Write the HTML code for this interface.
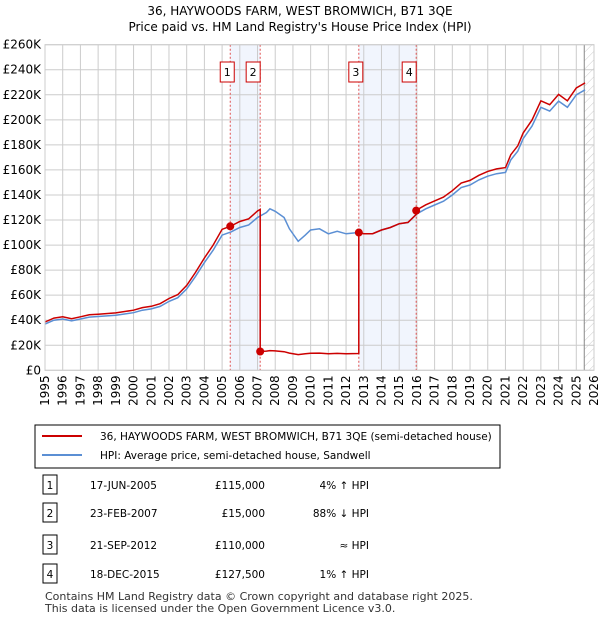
<!DOCTYPE html>
<html><head><meta charset="utf-8"><style>
body{margin:0;background:#fff;font-family:"Liberation Sans","DejaVu Sans",sans-serif;}
svg text{font-family:"DejaVu Sans","Liberation Sans",sans-serif;}
</style></head><body>
<svg width="600" height="620" xmlns="http://www.w3.org/2000/svg" id="chart">
<defs><pattern id="hatch" width="6" height="6" patternUnits="userSpaceOnUse" patternTransform="rotate(45)"><line x1="0" y1="0" x2="0" y2="6" stroke="#ccc" stroke-width="1"/></pattern></defs>
<text x="300" y="15" text-anchor="middle" font-size="12">36, HAYWOODS FARM, WEST BROMWICH, B71 3QE</text>
<text x="300" y="31" text-anchor="middle" font-size="12">Price paid vs. HM Land Registry's House Price Index (HPI)</text>
<g id="plot"></g>
<rect x="35" y="425" width="465" height="43" fill="#fff" stroke="#000" stroke-width="1"/>
<line x1="42" y1="436" x2="82" y2="436" stroke="#cc0000" stroke-width="2"/>
<text x="100" y="440" font-size="10.5">36, HAYWOODS FARM, WEST BROMWICH, B71 3QE (semi-detached house)</text>
<line x1="42" y1="455" x2="82" y2="455" stroke="#5b8fd4" stroke-width="2"/>
<text x="100" y="459" font-size="10.5">HPI: Average price, semi-detached house, Sandwell</text>
<g id="table" font-size="10.5"></g>
<text x="45" y="600" font-size="11" fill="#333">Contains HM Land Registry data © Crown copyright and database right 2025.</text>
<text x="45" y="612" font-size="11" fill="#333">This data is licensed under the Open Government Licence v3.0.</text>
</svg>
<script>
const hpiYears=[1995,1995.5,1996,1996.5,1997,1997.5,1998,1999,2000,2000.5,2001,2001.5,2002,2002.5,2003,2003.5,2004,2004.5,2005,2005.5,2006,2006.5,2007,2007.5,2007.7,2008,2008.5,2008.8,2009.3,2009.7,2010,2010.5,2011,2011.5,2012,2012.7,2013,2013.5,2014,2014.5,2015,2015.5,2016,2016.5,2017,2017.5,2018,2018.5,2019,2019.5,2020,2020.5,2021,2021.3,2021.7,2022,2022.5,2023,2023.5,2024,2024.5,2025,2025.5];
const hpiValues=[37,40,41,39.5,41,42.5,43,44,46,48,49,51,55,58,65,75,86,96,108,110.5,114,116,122,126,129,127,122,113,103,108,112,113,109,111,109,110,109,109,112,114,117,118,125,129,132,135,140,146,148,152,155,157,158,168,175,185,195,210,207,215,210,220,224];
const saleYears=[2005.46,2007.15,2012.72,2015.96];
const salePrices=[115,15,110,127.5];
const saleLabels=["1","2","3","4"];
const saleDates=["17-JUN-2005","23-FEB-2007","21-SEP-2012","18-DEC-2015"];
const salePriceText=["£115,000","£15,000","£110,000","£127,500"];
const saleHpiText=["4% ↑ HPI","88% ↓ HPI","≈ HPI","1% ↑ HPI"];
const yTicks=[0,20,40,60,80,100,120,140,160,180,200,220,240,260];
const xTicks=[1995,1996,1997,1998,1999,2000,2001,2002,2003,2004,2005,2006,2007,2008,2009,2010,2011,2012,2013,2014,2015,2016,2017,2018,2019,2020,2021,2022,2023,2024,2025,2026];

const X0=45,X1=594,Y0=370.3,Y1=44.7;
const sx=y=>X0+(y-1995)/(2026-1995)*(X1-X0);
const sy=v=>Y0-v/260*(Y0-Y1);
const NS="http://www.w3.org/2000/svg";
const plot=document.getElementById('plot');
function mk(tag,attrs,parent){const e=document.createElementNS(NS,tag);for(const k in attrs)e.setAttribute(k,attrs[k]);(parent||plot).appendChild(e);return e;}
function hpiAt(t){if(t<=hpiYears[0])return hpiValues[0];for(let i=1;i<hpiYears.length;i++){if(t<=hpiYears[i]){const f=(t-hpiYears[i-1])/(hpiYears[i]-hpiYears[i-1]);return hpiValues[i-1]+f*(hpiValues[i]-hpiValues[i-1]);}}return hpiValues[hpiValues.length-1];}

for(let i=0;i<saleYears.length;i+=2){
 const r=mk('rect',{x:sx(saleYears[i]),y:Y1,width:sx(saleYears[i+1])-sx(saleYears[i]),height:Y0-Y1,fill:'#eef3fc',opacity:0.8});
 
 
}
const hz=mk('rect',{x:sx(2025.45),y:Y1,width:X1-sx(2025.45),height:Y0-Y1,fill:'url(#hatch)'});


yTicks.forEach(v=>{
 mk('line',{x1:X0,x2:X1,y1:sy(v),y2:sy(v),stroke:'#ccc','stroke-width':1});
 const t=mk('text',{x:X0-4,y:sy(v)+4,'text-anchor':'end','font-size':12});t.textContent='£'+(v===0?'0':v+'K');
 
 
});
xTicks.forEach(y=>{
 mk('line',{x1:sx(y),x2:sx(y),y1:Y1,y2:Y0,stroke:'#ccc','stroke-width':1});
 const t=mk('text',{transform:`translate(${sx(y)+4},${Y0+5}) rotate(-90)`,'text-anchor':'end','font-size':12});t.textContent=y;
 
 
});
mk('line',{x1:sx(2025.45),x2:sx(2025.45),y1:Y1,y2:Y0,stroke:'#888','stroke-width':1});
saleYears.forEach((y,i)=>{
 const l=mk('line',{x1:sx(y),x2:sx(y),y1:Y1,y2:Y0,stroke:'#e05050','stroke-width':1,'stroke-dasharray':'2,2'});
 
 
 const g=mk('g',{});
 
 
 const cx=sx(y)+(i%2===0?-3:-7);
 mk('rect',{x:cx-7,y:62,width:14,height:20,fill:'#fff',stroke:'#cc0000','stroke-width':1},g);
 const t=mk('text',{x:cx,y:76,'text-anchor':'middle','font-size':11},g);t.textContent=saleLabels[i];
});
let hp='';
hpiYears.forEach((y,i)=>{hp+=(i?'L':'M')+sx(y).toFixed(1)+','+sy(hpiValues[i]).toFixed(1);});
const hl=mk('path',{d:hp,fill:'none',stroke:'#5b8fd4','stroke-width':1.5});


const pts=[];
function seg(a,b,ratio){hpiYears.forEach((y,i)=>{if(y>a&&y<b)pts.push([y,hpiValues[i]*ratio]);});}
const r0=salePrices[0]/hpiAt(saleYears[0]);
seg(1994,saleYears[0],r0);pts.push([saleYears[0],salePrices[0]]);
seg(saleYears[0],saleYears[1],r0);pts.push([saleYears[1],hpiAt(saleYears[1])*r0]);
for(let k=1;k<4;k++){
 const r=salePrices[k]/hpiAt(saleYears[k]);
 pts.push([saleYears[k],salePrices[k]]);
 seg(saleYears[k],k<3?saleYears[k+1]:2026,r);
 if(k<3)pts.push([saleYears[k+1],hpiAt(saleYears[k+1])*r]);
}
let pp='';pts.forEach((p,i)=>{pp+=(i?'L':'M')+sx(p[0]).toFixed(1)+','+sy(p[1]).toFixed(1);});
const pl=mk('path',{d:pp,fill:'none',stroke:'#cc0000','stroke-width':1.5});


saleYears.forEach((y,i)=>{
 const c=mk('circle',{cx:sx(y),cy:sy(salePrices[i]),r:4,fill:'#cc0000'});
 
 
});
mk('rect',{x:X0,y:Y1,width:X1-X0,height:Y0-Y1,fill:'none',stroke:'#ccc','stroke-width':1});
const tb=document.getElementById('table');
const rowY=[485,513,545,574];
saleLabels.forEach((s,i)=>{
 const g=mk('g',{},tb);
 
 
 mk('rect',{x:43,y:rowY[i]-10,width:14,height:19,fill:'#fff',stroke:'#000'},g);
 let t=mk('text',{x:50,y:rowY[i]+4,'text-anchor':'middle'},g);t.textContent=s;
 t=mk('text',{x:90,y:rowY[i]+4},g);t.textContent=saleDates[i];
 t=mk('text',{x:265,y:rowY[i]+4,'text-anchor':'end'},g);t.textContent=salePriceText[i];
 t=mk('text',{x:369,y:rowY[i]+4,'text-anchor':'end'},g);t.textContent=saleHpiText[i];
});
</script>
</body></html>
